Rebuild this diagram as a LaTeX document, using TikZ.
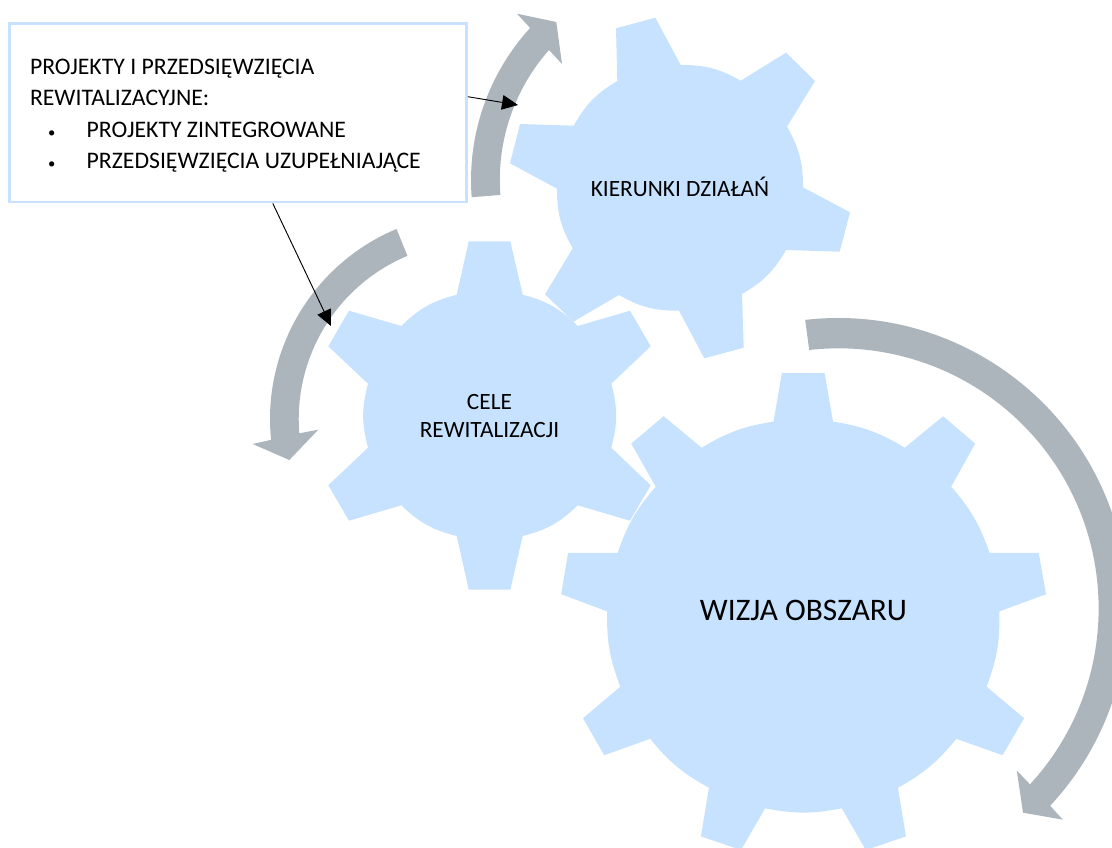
\documentclass[tikz,border=0pt]{standalone}
\usepackage{fontspec}
\setmainfont{Carlito}
\usetikzlibrary{arrows.meta}
\definecolor{gearblue}{HTML}{C6E2FE}
\definecolor{ringgray}{HTML}{ADB5BC}
\tikzset{
	gear/.style={fill=gearblue},
	gap/.style={bend left=#1},
	ring/.style={fill=ringgray},
	label/.style={align=flush center,inner sep=0pt,font=\fontsize{17.5}{20.3}\selectfont},
	callout/.style={-{Triangle[length=12pt,width=11pt]},black,line width=0.7pt}
}
\begin{document}
\begin{tikzpicture}[x=0.75pt,y=-0.75pt]
\useasboundingbox (0,0) rectangle (1112,847);
\clip (0,0) rectangle (1112,847);

% curved arrows round the gears
\fill[ring] ([shift={(175.6:225)}]696,180) arc[start angle=175.6,end angle=222.5,radius=225]
	-- (517,13.7) -- (556.3,22) -- (562,64) -- (549,50)
	arc[start angle=221.5,end angle=175.6,radius=196] -- cycle;
\fill[ring] ([shift={(247.3:206)}]476,419) arc[start angle=247.3,end angle=174.2,radius=206]
	-- (252.7,444) -- (289.3,460) -- (318.3,429.7) -- (299.3,433.3)
	arc[start angle=175.4,end angle=247.3,radius=177] -- cycle;
\fill[ring] ([shift={(-96.5:290)}]838,608) arc[start angle=-96.5,end angle=43,radius=290]
	-- (1062.8,819.6) -- (1023,812.7) -- (1016.8,770.6) -- (1030,784.3)
	arc[start angle=42.6,end angle=-96.5,radius=260] -- cycle;

% gears
\fill[gear] (617.3,81) -- (616,28.3) -- (655.3,17.7) -- (680.7,65) to[gap=15] (740.7,80.7)
	-- (786,52.7) -- (815,81) -- (787,126.7) to[gap=15] (803,187.3)
	-- (850,212.3) -- (839.7,251.7) -- (786,250) to[gap=15] (742,294)
	-- (743.7,347.7) -- (704.3,358.3) -- (679,310.7) to[gap=15] (619,295)
	-- (573.3,321.7) -- (545,294.3) -- (572.7,248.3) to[gap=15] (557,188.7)
	-- (510,163.3) -- (520,124) -- (573.7,125.7) to[gap=15] cycle;
\fill[gear] (456.7,294.7) -- (468.7,241.3) -- (510.3,241.3) -- (522.7,294.7) to[gap=15] (577.7,326)
	-- (630,310.7) -- (650.7,346.3) -- (611.3,383.7) to[gap=15] (611.3,447.7)
	-- (650.7,485.3) -- (630,520.7) -- (577.7,505.3) to[gap=15] (522.7,536)
	-- (510.3,589.7) -- (468.7,589.7) -- (456.7,536) to[gap=15] (401.3,505.3)
	-- (349,520.7) -- (328.3,485.3) -- (368,447.7) to[gap=15] (368,383.7)
	-- (328.3,346.3) -- (349,310.7) -- (401.3,326) to[gap=15] cycle;
\fill[gear] (773.5,421.6) -- (781.9,373) -- (824.6,373) -- (833,421.6) to[gap=11] (904.8,447.7)
	-- (943.1,416.2) -- (975.2,443.6) -- (951.2,486.7) to[gap=11] (989.5,552.8)
	-- (1038.7,552.8) -- (1046,594.2) -- (999.3,611.4) to[gap=11] (986.6,686.7)
	-- (1024.1,718.2) -- (1002.6,755.2) -- (956.3,738.8) to[gap=11] (897.9,787.7)
	-- (905.9,836.4) -- (865.8,850) -- (841.7,808.3) to[gap=11] (765.1,808.3)
	-- (741,850) -- (700.9,836.4) -- (708.9,787.7) to[gap=11] (650.2,738.8)
	-- (604.2,755.2) -- (583,718.2) -- (620.3,686.7) to[gap=11] (607.1,611.4)
	-- (561.2,594.2) -- (568.1,552.8) -- (617.7,552.8) to[gap=11] (655.7,486.7)
	-- (631.2,443.6) -- (663.7,416.2) -- (701.6,447.7) to[gap=11] cycle;

\node[label] (kierunki) at (680,187) {KIERUNKI DZIAŁAŃ};
\node[label] (cele) at (489.5,416) {CELE\\REWITALIZACJI};
\node[label,font=\fontsize{23.5}{28}\selectfont] (wizja) at (803.5,610) {WIZJA OBSZARU};

\node[draw=gearblue,fill=white,line width=1.9pt,minimum width=343pt,minimum height=134pt,
	inner sep=0pt,text width=312pt,align=flush left,font=\fontsize{17.8}{23.6}\selectfont] (box) at (238,112.8)
	{\rule{0pt}{16pt}PROJEKTY I PRZEDSIĘWZIĘCIA\\
	REWITALIZACYJNE:\\
	\hspace*{13.5pt}\makebox[29pt][l]{\fontsize{11}{11}\selectfont •}PROJEKTY ZINTEGROWANE\\
	\hspace*{13.5pt}\makebox[29pt][l]{\fontsize{11}{11}\selectfont •}PRZEDSIĘWZIĘCIA UZUPEŁNIAJĄCE};

\coordinate (kierunkitip) at (518,105);
\coordinate (celetip) at (331,326);
\draw[callout] (box.4.5) -- (kierunkitip);
\draw[callout] (box.-69.9) -- (celetip);
\end{tikzpicture}
\end{document}
